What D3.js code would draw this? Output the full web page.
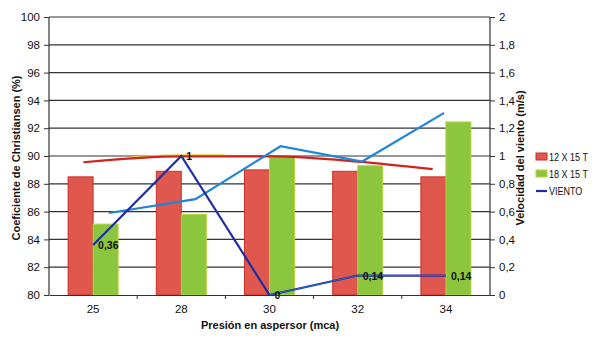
<!DOCTYPE html>
<html>
<head>
<meta charset="utf-8">
<script src="https://cdn.jsdelivr.net/npm/d3@7"></script>
<style>
  html, body { margin: 0; padding: 0; background: #fff; }
  svg { display: block; font-family: "Liberation Sans", Arial, sans-serif; }
</style>
</head>
<body>
<svg id="chart" width="592" height="338"></svg>
<script>
// Presión en aspersor (mca)
const categories = ["25", "28", "30", "32", "34"];
// Coeficiente de Christiansen (%) por marco de riego
const cu12x15 = [88.5, 88.9, 89.0, 88.9, 88.5];
const cu18x15 = [85.1, 85.8, 89.9, 89.3, 92.45];
// Velocidad del viento (m/s)
const viento = [0.36, 1, 0, 0.14, 0.14];
const vientoLabels = ["0,36", "1", "0", "0,14", "0,14"];
// Línea de viento secundaria (posición en índice de categoría, m/s)
const vientoAltPos = [0.18, 1.16, 2.125, 3.05, 3.98];
const vientoAlt = [0.59, 0.69, 1.07, 0.96, 1.31];
// Tendencia del coeficiente 12 X 15 T (posición en índice, %)
const trendPos = [-0.11, 1, 2, 3, 3.85];
const trend12 = [89.55, 89.97, 89.97, 89.6, 89.05];
// Tramo de la tendencia 18 X 15 T visible bajo la anterior
const trend18Pos = [0.42, 1, 1.5];
const trend18 = [89.9, 90.05, 90.05];
// Ticks
const leftTicks = [80, 82, 84, 86, 88, 90, 92, 94, 96, 98, 100];
const rightTicks = [0, 0.2, 0.4, 0.6, 0.8, 1, 1.2, 1.4, 1.6, 1.8, 2];
const seriesNames = ["12 X 15 T", "18 X 15 T", "VIENTO"];

const svg = d3.select("#chart");
const m = { left: 49, right: 490, top: 17, bottom: 295 };

const x = d3.scaleBand().domain(categories).range([m.left, m.right]).paddingInner(0).paddingOuter(0);
const xi = d3.scaleLinear().domain([0, 1]).range([x(categories[0]) + x.bandwidth() / 2, x(categories[1]) + x.bandwidth() / 2]);
const yL = d3.scaleLinear().domain([80, 100]).range([m.bottom, m.top]);
const yR = d3.scaleLinear().domain([0, 2]).range([m.bottom, m.top]);
const fmt = d3.formatLocale({ decimal: ",", thousands: ".", grouping: [3], currency: ["", "€"] });
const fR = v => (v === 0 || v === 1 || v === 2) ? String(v) : fmt.format(".1f")(v);
const narrow = "'Liberation Sans Narrow', 'Liberation Sans', Arial, sans-serif";

// Horizontal grid
svg.append("g").selectAll("line").data(leftTicks.slice(1)).join("line")
  .attr("x1", m.left).attr("x2", m.right)
  .attr("y1", d => yL(d)).attr("y2", d => yL(d))
  .attr("stroke", "#333").attr("stroke-width", 1.2);

// Bars
const barW = 25;
const bars = svg.append("g");
bars.selectAll("rect.r").data(cu12x15).join("rect")
  .attr("x", (d, i) => x(categories[i]) + x.bandwidth() / 2 - barW)
  .attr("y", d => yL(d)).attr("width", barW).attr("height", d => yL(80) - yL(d))
  .attr("fill", "#e0574e").attr("stroke", "#c8322a").attr("stroke-width", 1);
bars.selectAll("rect.g").data(cu18x15).join("rect")
  .attr("x", (d, i) => x(categories[i]) + x.bandwidth() / 2)
  .attr("y", d => yL(d)).attr("width", barW).attr("height", d => yL(80) - yL(d))
  .attr("fill", "#8cc63e").attr("stroke", "#b5d43a").attr("stroke-width", 1);

// Trend lines over the bars
svg.append("path")
  .datum(trend18Pos.map((p, i) => [p, trend18[i]]))
  .attr("d", d3.line().x(d => xi(d[0])).y(d => yL(d[1])).curve(d3.curveMonotoneX))
  .attr("fill", "none").attr("stroke", "#e6d24a").attr("stroke-width", 2);
svg.append("path")
  .datum(trendPos.map((p, i) => [p, trend12[i]]))
  .attr("d", d3.line().x(d => xi(d[0])).y(d => yL(d[1])).curve(d3.curveMonotoneX))
  .attr("fill", "none").attr("stroke", "#d0231e").attr("stroke-width", 2.2);

// Secondary wind line
svg.append("path")
  .datum(vientoAltPos.map((p, i) => [p, vientoAlt[i]]))
  .attr("d", d3.line().x(d => xi(d[0])).y(d => yR(d[1])))
  .attr("fill", "none").attr("stroke", "#1f86d6").attr("stroke-width", 2.2);

// Wind line
svg.append("path")
  .datum(viento)
  .attr("d", d3.line().x((d, i) => x(categories[i]) + x.bandwidth() / 2).y(d => yR(d)))
  .attr("fill", "none").attr("stroke", "#1e2ea0").attr("stroke-width", 2.2);
svg.append("path")
  .datum(viento.slice(2))
  .attr("d", d3.line().x((d, i) => x(categories[i + 2]) + x.bandwidth() / 2).y(d => yR(d)))
  .attr("fill", "none").attr("stroke", "#1f86d6").attr("stroke-width", 1).attr("opacity", 0.7);

// Wind labels
svg.append("g").selectAll("text").data(viento).join("text")
  .attr("x", (d, i) => x(categories[i]) + x.bandwidth() / 2 + 5)
  .attr("y", d => yR(d) + 4)
  .attr("font-size", 10.5).attr("fill", "#111").attr("font-weight", "bold")
  .attr("font-family", narrow)
  .text((d, i) => vientoLabels[i]);

// Left axis
const axL = svg.append("g").attr("transform", `translate(${m.left},0)`)
  .call(d3.axisLeft(yL).tickValues(leftTicks).tickSize(5).tickPadding(4).tickFormat(d3.format("d")));
// Right axis
const axR = svg.append("g").attr("transform", `translate(${m.right},0)`)
  .call(d3.axisRight(yR).tickValues(rightTicks).tickSize(5).tickPadding(4).tickFormat(fR));
// Bottom axis
const axB = svg.append("g").attr("transform", `translate(0,${m.bottom})`)
  .call(d3.axisBottom(x).tickSize(0).tickPadding(10));
axB.selectAll(".tick line").remove();
svg.append("g").selectAll("line").data(d3.range(1, categories.length)).join("line")
  .attr("x1", d => m.left + d * x.bandwidth()).attr("x2", d => m.left + d * x.bandwidth())
  .attr("y1", m.bottom).attr("y2", m.bottom + 4).attr("stroke", "#333");

[axL, axR, axB].forEach(a => {
  a.select(".domain").attr("stroke", "#333").attr("stroke-width", 1.2);
  a.selectAll(".tick line").attr("stroke", "#333");
  a.selectAll("text").attr("font-size", 11.5).attr("fill", "#111")
    .attr("font-family", narrow);
});
axL.select(".domain").attr("d", `M0,${m.bottom}V${m.top}`);
axR.select(".domain").attr("d", `M0,${m.bottom}V${m.top}`);

// Axis titles
svg.append("text")
  .attr("transform", `translate(20,${(m.top + m.bottom) / 2 + 2}) rotate(-90)`)
  .attr("text-anchor", "middle").attr("font-size", 11).attr("font-weight", "bold").attr("fill", "#111")
  .text("Coeficiente de Christiansen (%)");
svg.append("text")
  .attr("transform", `translate(524,${(m.top + m.bottom) / 2 + 2}) rotate(-90)`)
  .attr("text-anchor", "middle").attr("font-size", 11).attr("font-weight", "bold").attr("fill", "#111")
  .text("Velocidad del viento (m/s)");
svg.append("text")
  .attr("x", 270).attr("y", 329)
  .attr("text-anchor", "middle").attr("font-size", 11).attr("font-weight", "bold").attr("fill", "#111")
  .text("Presión en aspersor (mca)");

// Legend (labels horizontally condensed)
const lg = svg.append("g").attr("transform", "translate(536,157)");
const lgFill = ["#e0574e", "#8cc63e"];
const lgStroke = ["#c8322a", "#b5d43a"];
seriesNames.forEach((name, i) => {
  const yy = i * 17;
  if (i < 2) {
    lg.append("rect").attr("x", 0).attr("y", yy - 4).attr("width", 11).attr("height", 7)
      .attr("fill", lgFill[i]).attr("stroke", lgStroke[i]);
  } else {
    lg.append("line").attr("x1", 0).attr("x2", 11).attr("y1", yy).attr("y2", yy)
      .attr("stroke", "#1e2ea0").attr("stroke-width", 2.2);
  }
  lg.append("text")
    .attr("transform", `translate(13,${yy + 4}) scale(0.82,1)`)
    .attr("font-size", 11).attr("fill", "#111")
    .text(name);
});
</script>
</body>
</html>
